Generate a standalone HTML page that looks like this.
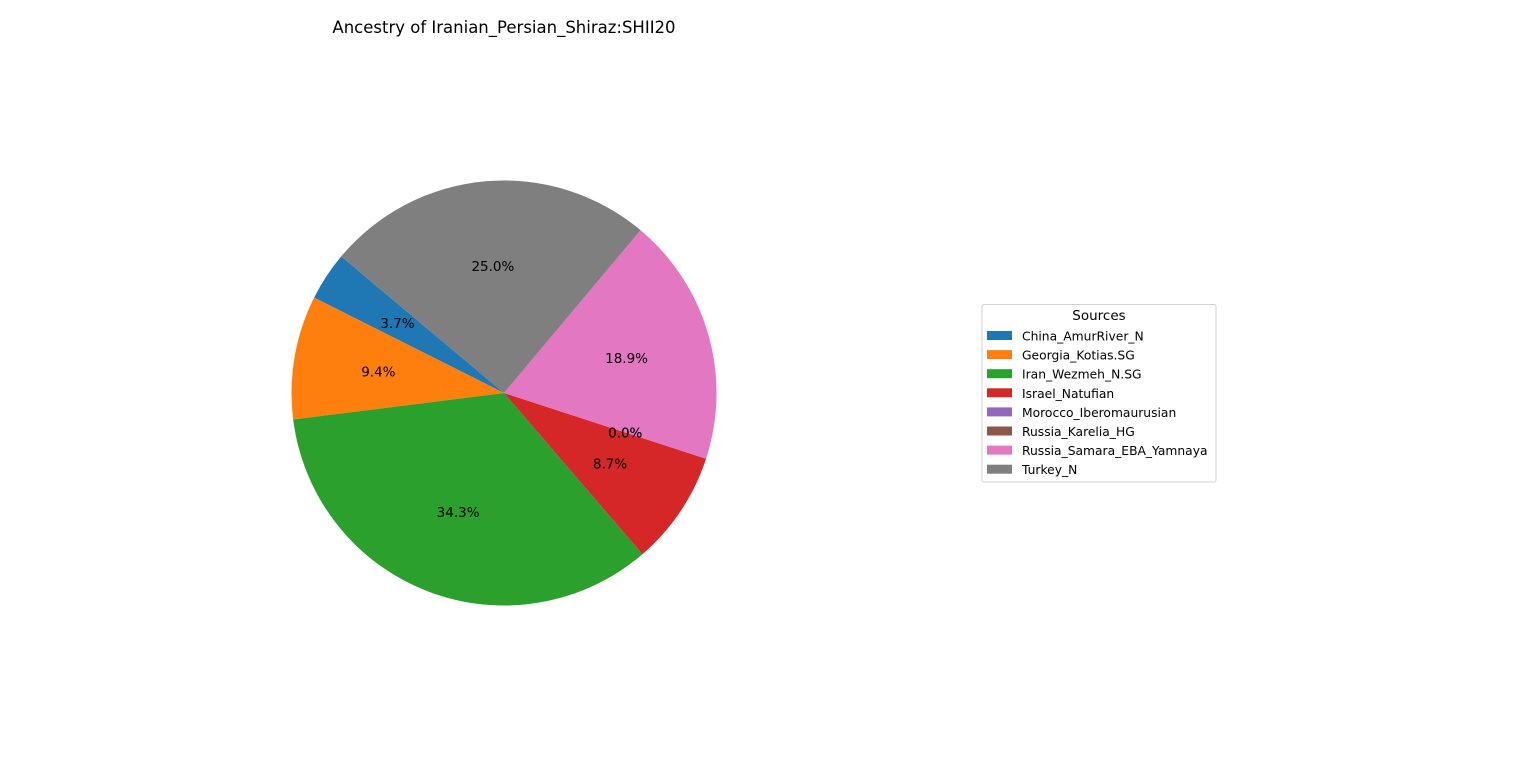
<!DOCTYPE html>
<html><head><meta charset="utf-8"><style>
body{margin:0;background:#fff;}
svg{display:block;font-family:"DejaVu Sans","Liberation Sans",sans-serif;}
</style></head><body>
<svg id="chart" width="1536" height="762" viewBox="0 0 1536 762">
<rect width="1536" height="762" fill="#fff"/>
<text x="504" y="33" font-size="16.5" text-anchor="middle" fill="#000">Ancestry of Iranian_Persian_Shiraz:SHII20</text>
<g id="pie"></g>
<g id="legend">
<rect x="982" y="304.5" width="234" height="177.5" rx="2" fill="#fff" stroke="#d0d0d0"/>
<text x="1099" y="320" font-size="13.5" text-anchor="middle" fill="#000">Sources</text>
</g>
</svg>
<script>
const categories=["China_AmurRiver_N","Georgia_Kotias.SG","Iran_Wezmeh_N.SG","Israel_Natufian","Morocco_Iberomaurusian","Russia_Karelia_HG","Russia_Samara_EBA_Yamnaya","Turkey_N"];
const values=[3.7,9.4,34.3,8.7,0.0,0.0,18.9,25.0];
const colors=["#1f77b4","#ff7f0e","#2ca02c","#d62728","#9467bd","#8c564b","#e377c2","#7f7f7f"];
const NS="http://www.w3.org/2000/svg";
const cx=504,cy=393,r=212.5,start=140;
const pie=document.getElementById('pie');
const total=values.reduce((a,b)=>a+b,0);
function pt(a,rad){const t=a*Math.PI/180;return [cx+rad*Math.cos(t),cy-rad*Math.sin(t)];}
let ang=start;
values.forEach((v,i)=>{
  const sweep=v/total*360;
  const a0=ang,a1=ang+sweep;
  if(sweep>0){
    const p0=pt(a0,r),p1=pt(a1,r);
    const path=document.createElementNS(NS,'path');
    path.setAttribute('d',`M${cx},${cy} L${p0[0]},${p0[1]} A${r},${r} 0 ${sweep>180?1:0} 0 ${p1[0]},${p1[1]} Z`);
    path.setAttribute('fill',colors[i]);
    
    
    pie.appendChild(path);
  }
  ang=a1;
});
ang=start;
values.forEach((v,i)=>{
  const sweep=v/total*360;
  const mid=ang+sweep/2;
  const p=pt(mid,r*0.6);
  const t=document.createElementNS(NS,'text');
  t.setAttribute('x',p[0]);t.setAttribute('y',p[1]+5);
  t.setAttribute('font-size','13.5');t.setAttribute('text-anchor','middle');
  t.textContent=v.toFixed(1)+'%';
  
  
  pie.appendChild(t);
  ang+=sweep;
});
const leg=document.getElementById('legend');
categories.forEach((c,i)=>{
  const y=335.5+i*19.1;
  const rc=document.createElementNS(NS,'rect');
  rc.setAttribute('x',987);rc.setAttribute('y',y-4.5);rc.setAttribute('width',25);rc.setAttribute('height',9);
  rc.setAttribute('fill',colors[i]);
  
  
  leg.appendChild(rc);
  const t=document.createElementNS(NS,'text');
  t.setAttribute('x',1022);t.setAttribute('y',y+5);t.setAttribute('font-size','12.3');
  t.textContent=c;
  
  
  leg.appendChild(t);
});
</script>
</body></html>
